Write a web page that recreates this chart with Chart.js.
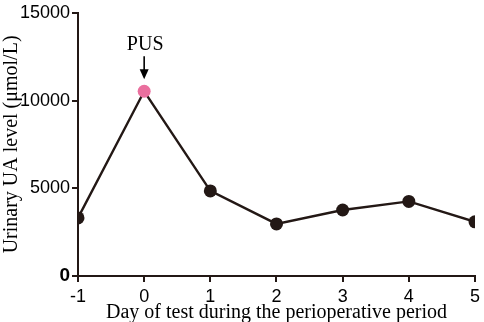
<!DOCTYPE html>
<html>
<head>
<meta charset="utf-8">
<script src="https://cdn.jsdelivr.net/npm/chart.js@4/dist/chart.umd.min.js"></script>
<style>
  html, body { margin: 0; padding: 0; background: #fff; }
  #wrap { width: 484px; height: 322px; position: relative; }
</style>
</head>
<body>
<div id="wrap"><canvas id="myChart" width="484" height="322"></canvas></div>
<script>
// dias del periodo perioperatorio
const days = [-1, 0, 1, 2, 3, 4, 5];
// nivel de UA urinario (umol/L)
const uaLevel = [3310, 10530, 4850, 2970, 3760, 4250, 3085];
const yTicks = [0, 5000, 10000, 15000];
const markDay = 0;       // dia marcado con flecha
const markLabel = 'PUS';

const ink = '#231815';
const pink = '#ea6f9e';
const serif = '"Liberation Serif", "Times New Roman", serif';
const sans = '"Liberation Sans", Arial, sans-serif';

let pointColors = days.map(d => d === markDay ? pink : ink);

// dibuja el texto PUS y la flecha sobre el punto marcado
const pusPlugin = {
    id: 'pus',
    afterDatasetsDraw(chart) {
        const ctx = chart.ctx;
        const xs = chart.scales.x, ys = chart.scales.y;
        const idx = days.indexOf(markDay);
        const px = xs.getPixelForValue(markDay);
        const py = ys.getPixelForValue(uaLevel[idx]);
        ctx.save();
        ctx.fillStyle = '#000';
        ctx.strokeStyle = '#000';
        ctx.font = '20px ' + serif;
        ctx.textAlign = 'center';
        ctx.textBaseline = 'alphabetic';
        ctx.fillText(markLabel, px + 1, py - 41);
        // flecha
        ctx.lineWidth = 1.6;
        ctx.beginPath();
        ctx.moveTo(px, py - 35);
        ctx.lineTo(px, py - 19);
        ctx.stroke();
        ctx.beginPath();
        ctx.moveTo(px - 4.5, py - 22);
        ctx.lineTo(px + 4.5, py - 22);
        ctx.lineTo(px, py - 12);
        ctx.closePath();
        ctx.fill();
        ctx.restore();
    }
};

const ctx = document.getElementById('myChart').getContext('2d');
const myChart = new Chart(ctx, {
    type: 'line',
    data: {
        datasets: [{
            label: 'UA',
            data: days.map((d, i) => ({ x: d, y: uaLevel[i] })),
            borderColor: ink,
            borderWidth: 2.4,
            pointBackgroundColor: pointColors,
            pointBorderColor: pointColors,
            pointRadius: 6.5,
            pointBorderWidth: 0,
            tension: 0
        }]
    },
    options: {
        responsive: false,
        animation: false,
        layout: { padding: { top: 10, right: 7, left: 0, bottom: 0 } },
        plugins: { legend: { display: false }, tooltip: { enabled: false } },
        scales: {
            x: {
                type: 'linear',
                min: -1,
                max: 5,
                afterFit(scale) { scale.height = 46; },
                ticks: {
                    stepSize: 1,
                    color: '#000',
                    padding: 4,
                    callback: v => String(v),
                    font: { family: sans, size: 18 }
                },
                grid: {
                    drawOnChartArea: false,
                    drawTicks: true,
                    tickLength: 6,
                    color: ink,
                    lineWidth: 2
                },
                border: { display: true, color: ink, width: 2 },
                title: {
                    display: true,
                    text: 'Day of test during the perioperative period',
                    color: '#000',
                    padding: { top: 0, bottom: -3 },
                    font: { family: serif, size: 20 }
                }
            },
            y: {
                min: 0,
                max: 15000,
                afterFit(scale) { scale.width = 78; },
                afterBuildTicks(scale) { scale.ticks = yTicks.map(v => ({ value: v })); },
                ticks: {
                    color: '#000',
                    padding: 2,
                    callback: v => String(v),
                    font: (c) => c.tick && c.tick.value === 0
                        ? { family: sans, size: 19, weight: 'bold' }
                        : { family: sans, size: 18 }
                },
                grid: {
                    drawOnChartArea: false,
                    drawTicks: true,
                    tickLength: 6,
                    color: ink,
                    lineWidth: 2
                },
                border: { display: true, color: ink, width: 2 },
                title: {
                    display: true,
                    text: 'Urinary UA level (μmol/L)',
                    color: '#000',
                    padding: { top: 0, bottom: 0 },
                    font: { family: serif, size: 20 }
                }
            }
        }
    },
    plugins: [pusPlugin]
});
</script>
</body>
</html>
